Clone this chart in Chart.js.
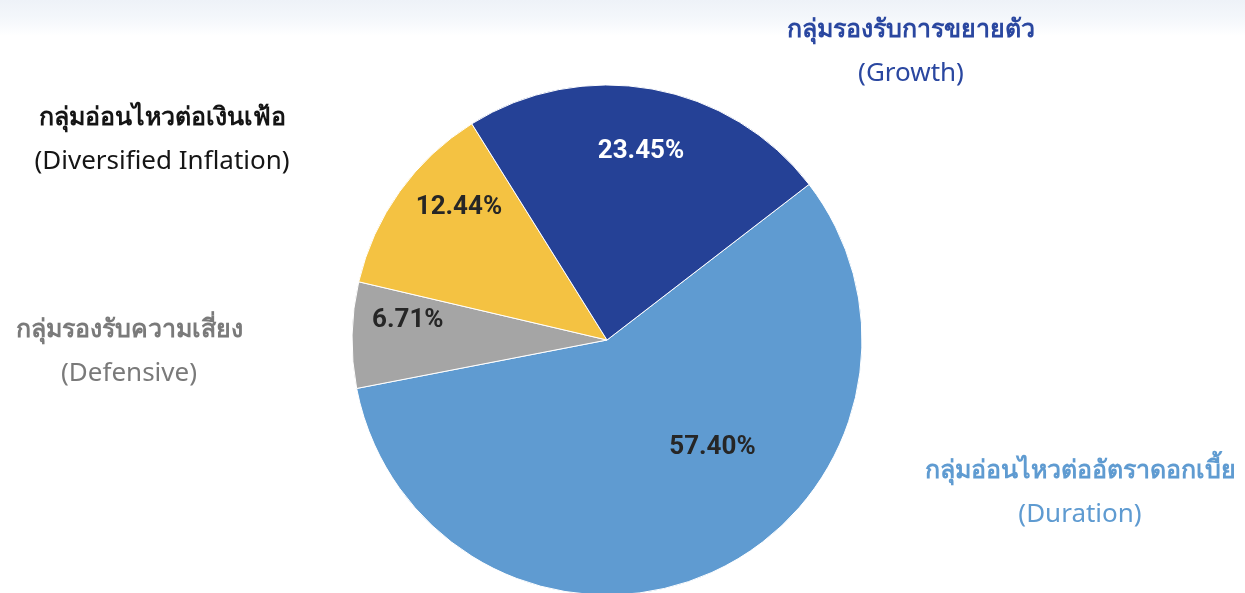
<!DOCTYPE html>
<html>
<head>
<meta charset="utf-8">
<script src="https://cdn.jsdelivr.net/npm/chart.js@4.4.1/dist/chart.umd.min.js"></script>
<style>
  html, body { margin:0; padding:0; width:1245px; height:593px; overflow:hidden;
    background: linear-gradient(to bottom, #eef2f8 0px, #f4f7fb 18px, #fbfcfe 30px, #ffffff 36px); }
  #wrap { position:absolute; left:0; top:0; width:1245px; height:593px; }
</style>
</head>
<body>
<div id="wrap"><canvas id="c" width="1245" height="593"></canvas></div>
<script>
// ---- data ----
const categoriesThai = ['กลุ่มอ่อนไหวต่ออัตราดอกเบี้ย', 'กลุ่มรองรับความเสี่ยง', 'กลุ่มอ่อนไหวต่อเงินเฟ้อ', 'กลุ่มรองรับการขยายตัว'];
const categoriesEng = ['(Duration)', '(Defensive)', '(Diversified Inflation)', '(Growth)'];
const values = [57.40, 6.71, 12.44, 23.45];
const valueLabels = ['57.40%', '6.71%', '12.44%', '23.45%'];

// ---- styles ----
const sliceColors = ['#5f9bd1', '#a5a5a5', '#f4c242', '#254196'];
const valueTextColors = ['#262626', '#262626', '#262626', '#ffffff'];
const nameColors = ['#5f9bd1', '#7a7a7a', '#151515', '#2a47a0'];
// inner label placement: [angle deg clockwise from top, fraction of radius]
const innerPos = [[135.5, 0.59], [275.7, 0.785], [311.9, 0.78], [10.2, 0.753]];
// outer category label placement relative to pie centre: [dx, dy] of Thai line centre
const outerPos = [[473, 131], [-478, -10], [-445, -222], [304, -310]];

const labelPlugin = {
  id: 'sliceLabels',
  afterDatasetsDraw(chart) {
    const ctx = chart.ctx;
    const meta = chart.getDatasetMeta(0);
    const arc0 = meta.data[0];
    const cx = arc0.x, cy = arc0.y, R = arc0.outerRadius;
    ctx.save();
    ctx.textAlign = 'center';
    ctx.textBaseline = 'middle';
    meta.data.forEach((arc, i) => {
      const [a, f] = innerPos[i];
      const rad = a * Math.PI / 180;
      const x = cx + Math.sin(rad) * R * f;
      const y = cy - Math.cos(rad) * R * f;
      ctx.fillStyle = valueTextColors[i];
      ctx.font = 'bold 26px Roboto, "DejaVu Sans", sans-serif';
      ctx.fillText(valueLabels[i], x, y);

      const [dx, dy] = outerPos[i];
      ctx.fillStyle = nameColors[i];
      ctx.font = 'bold 25px "Noto Sans", "DejaVu Sans", sans-serif';
      ctx.fillText(categoriesThai[i], cx + dx, cy + dy);
      ctx.font = '26px "Noto Sans", "DejaVu Sans", sans-serif';
      ctx.fillText(categoriesEng[i], cx + dx, cy + dy + 44);
    });
    ctx.restore();
  }
};

new Chart(document.getElementById('c'), {
  type: 'pie',
  data: {
    labels: categoriesEng,
    datasets: [{
      data: values,
      backgroundColor: sliceColors,
      borderColor: '#ffffff',
      borderWidth: 1,
      hoverOffset: 0
    }]
  },
  options: {
    responsive: false,
    animation: false,
    rotation: 52.4,
    radius: 255,
    layout: { padding: { left: 0, right: 31, top: 87, bottom: 0 } },
    plugins: { legend: { display: false }, tooltip: { enabled: false } }
  },
  plugins: [labelPlugin]
});
</script>
</body>
</html>
